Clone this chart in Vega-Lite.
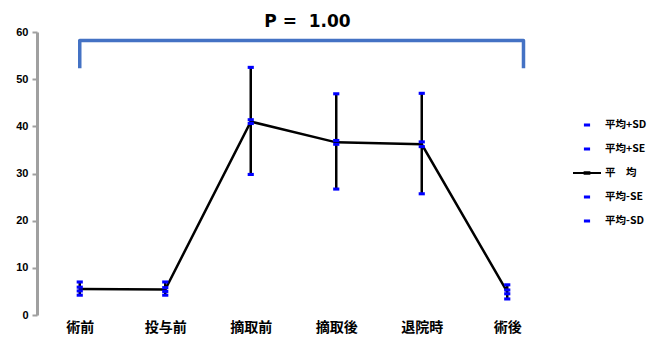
{
  "$schema": "https://vega.github.io/schema/vega-lite/v6.json",
  "width": 513,
  "height": 283,
  "autosize": {"type": "none"},
  "padding": {"left": 37, "top": 32, "right": 101, "bottom": 23},
  "background": "#ffffff",
  "config": {"view": {"stroke": null}},
  "title": {
    "text": "P =\u00a0 1.00",
    "font": "DejaVu Sans",
    "fontSize": 17,
    "fontWeight": "bold",
    "color": "#000000",
    "anchor": "middle",
    "dx": 14,
    "offset": -5
  },
  "datasets": {
    "stats": [
      {"idx": 0, "stage": "術前", "series": "平均+SD", "value": 7.0},
      {"idx": 0, "stage": "術前", "series": "平均+SE", "value": 5.9},
      {"idx": 0, "stage": "術前", "series": "平　均", "value": 5.5},
      {"idx": 0, "stage": "術前", "series": "平均-SE", "value": 5.1},
      {"idx": 0, "stage": "術前", "series": "平均-SD", "value": 4.2},
      {"idx": 1, "stage": "投与前", "series": "平均+SD", "value": 7.0},
      {"idx": 1, "stage": "投与前", "series": "平均+SE", "value": 5.8},
      {"idx": 1, "stage": "投与前", "series": "平　均", "value": 5.4},
      {"idx": 1, "stage": "投与前", "series": "平均-SE", "value": 5.0},
      {"idx": 1, "stage": "投与前", "series": "平均-SD", "value": 4.2},
      {"idx": 2, "stage": "摘取前", "series": "平均+SD", "value": 52.5},
      {"idx": 2, "stage": "摘取前", "series": "平均+SE", "value": 41.4},
      {"idx": 2, "stage": "摘取前", "series": "平　均", "value": 41.0},
      {"idx": 2, "stage": "摘取前", "series": "平均-SE", "value": 40.6},
      {"idx": 2, "stage": "摘取前", "series": "平均-SD", "value": 29.8},
      {"idx": 3, "stage": "摘取後", "series": "平均+SD", "value": 46.9},
      {"idx": 3, "stage": "摘取後", "series": "平均+SE", "value": 37.0},
      {"idx": 3, "stage": "摘取後", "series": "平　均", "value": 36.6},
      {"idx": 3, "stage": "摘取後", "series": "平均-SE", "value": 36.2},
      {"idx": 3, "stage": "摘取後", "series": "平均-SD", "value": 26.7},
      {"idx": 4, "stage": "退院時", "series": "平均+SD", "value": 47.0},
      {"idx": 4, "stage": "退院時", "series": "平均+SE", "value": 36.7},
      {"idx": 4, "stage": "退院時", "series": "平　均", "value": 36.2},
      {"idx": 4, "stage": "退院時", "series": "平均-SE", "value": 35.7},
      {"idx": 4, "stage": "退院時", "series": "平均-SD", "value": 25.7},
      {"idx": 5, "stage": "術後", "series": "平均+SD", "value": 6.4},
      {"idx": 5, "stage": "術後", "series": "平均+SE", "value": 5.3},
      {"idx": 5, "stage": "術後", "series": "平　均", "value": 4.9},
      {"idx": 5, "stage": "術後", "series": "平均-SE", "value": 4.5},
      {"idx": 5, "stage": "術後", "series": "平均-SD", "value": 3.4}
    ],
    "bracket": [
      {"step": 0, "at": 0, "level": 52.3},
      {"step": 1, "at": 0, "level": 58.2},
      {"step": 2, "at": 5.19, "level": 58.2},
      {"step": 3, "at": 5.19, "level": 52.3}
    ]
  },
  "layer": [
    {
      "data": {"name": "bracket"},
      "mark": {"type": "line", "color": "#4472C4", "strokeWidth": 3.5, "strokeJoin": "round"},
      "encoding": {
        "x": {"field": "at", "type": "quantitative"},
        "y": {"field": "level", "type": "quantitative"},
        "order": {"field": "step"}
      }
    },
    {
      "data": {"name": "stats"},
      "transform": [
        {"pivot": "series", "value": "value", "groupby": ["idx", "stage"]}
      ],
      "mark": {"type": "rule", "color": "#000000", "strokeWidth": 2.5},
      "encoding": {
        "x": {"field": "idx", "type": "quantitative"},
        "y": {"field": "平均-SD", "type": "quantitative"},
        "y2": {"field": "平均+SD"}
      }
    },
    {
      "data": {"name": "stats"},
      "transform": [{"filter": "datum.series === '平　均'"}],
      "mark": {"type": "line", "color": "#000000", "strokeWidth": 2.5},
      "encoding": {
        "x": {"field": "idx", "type": "quantitative"},
        "y": {"field": "value", "type": "quantitative"}
      }
    },
    {
      "data": {"name": "stats"},
      "transform": [{"filter": "datum.series !== '平　均'"}],
      "mark": {"type": "point", "filled": true, "opacity": 1, "size": 784},
      "encoding": {
        "x": {
          "field": "idx",
          "type": "quantitative",
          "scale": {"domain": [-0.5, 5.5], "nice": false, "zero": false},
          "axis": {
            "title": null,
            "values": [0, 1, 2, 3, 4, 5],
            "labelExpr": "['術前', '投与前', '摘取前', '摘取後', '退院時', '術後'][datum.value]",
            "domain": false,
            "ticks": false,
            "grid": false,
            "labelFont": "Noto Sans CJK JP",
            "labelFontSize": 14,
            "labelFontWeight": "bold",
            "labelColor": "#000000",
            "labelPadding": 5
          }
        },
        "y": {
          "field": "value",
          "type": "quantitative",
          "scale": {"domain": [0, 60], "nice": false},
          "axis": {
            "title": null,
            "values": [0, 10, 20, 30, 40, 50, 60],
            "grid": false,
            "domainColor": "#a0a0a0",
            "domainWidth": 3,
            "tickColor": "#a0a0a0",
            "tickWidth": 2,
            "tickSize": 5,
            "labelFont": "Liberation Sans",
            "labelFontSize": 11,
            "labelFontWeight": "bold",
            "labelColor": "#000000",
            "labelPadding": 4
          }
        },
        "shape": {
          "field": "series",
          "type": "nominal",
          "scale": {
            "domain": ["平均+SD", "平均+SE", "平　均", "平均-SE", "平均-SD"],
            "range": [
              "M-0.22,-0.11H0.22V0.11H-0.22Z",
              "M-0.22,-0.11H0.22V0.11H-0.22Z",
              "M-1,-0.07H1V0.07H-1Z M-0.24,-0.13H0.24V0.13H-0.24Z",
              "M-0.22,-0.11H0.22V0.11H-0.22Z",
              "M-0.22,-0.11H0.22V0.11H-0.22Z"
            ]
          }
        },
        "color": {
          "field": "series",
          "type": "nominal",
          "scale": {
            "domain": ["平均+SD", "平均+SE", "平　均", "平均-SE", "平均-SD"],
            "range": ["#0000ff", "#0000ff", "#000000", "#0000ff", "#0000ff"]
          },
          "legend": {
            "title": null,
            "orient": "none",
            "legendX": 535,
            "legendY": 83,
            "padding": 0,
            "symbolSize": 784,
            "clipHeight": 20,
            "rowPadding": 4,
            "labelOffset": 3,
            "labelFont": "Noto Sans CJK JP",
            "labelFontSize": 10.5,
            "labelFontWeight": "bold",
            "labelColor": "#000000"
          }
        }
      }
    }
  ]
}
